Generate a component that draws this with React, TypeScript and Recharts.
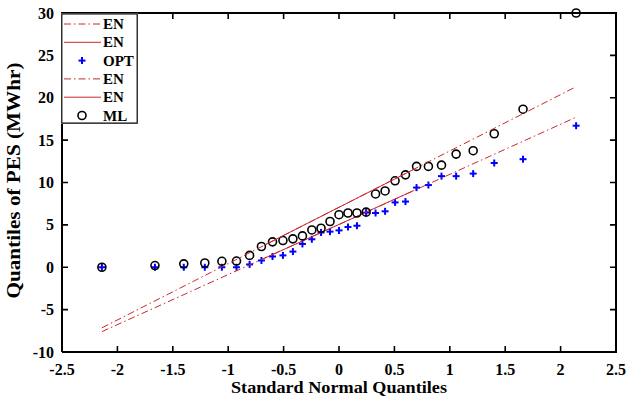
import React from 'react';
import { ComposedChart, Scatter, XAxis, YAxis, Label } from 'recharts';

// normal quantiles of the 31 plotting positions
const zQuantiles = [
  -2.14, -1.661, -1.401, -1.211, -1.057, -0.925, -0.807, -0.7, -0.6, -0.506, -0.416,
  -0.33, -0.245, -0.162, -0.081, 0, 0.081, 0.162, 0.245, 0.33, 0.416, 0.506, 0.6, 0.7,
  0.807, 0.925, 1.057, 1.211, 1.401, 1.661, 2.14,
];
const optValues = [
  0, 0, 0, 0, 0, 0, 0.33, 0.8, 1.27, 1.4, 1.85, 2.75, 3.3, 4.1, 4.2, 4.35, 4.75, 4.9,
  6.45, 6.4, 6.6, 7.65, 7.75, 9.4, 9.7, 10.75, 10.75, 11.05, 12.3, 12.75, 16.7,
];
const mlValues = [
  0, 0.2, 0.4, 0.5, 0.7, 0.73, 1.4, 2.45, 3.0, 3.15, 3.35, 3.7, 4.4, 4.6, 5.4, 6.2, 6.4,
  6.4, 6.5, 8.65, 9.0, 10.2, 10.9, 11.9, 11.9, 12.05, 13.35, 13.75, 15.75, 18.65, 30,
];

// reference lines: data extremes and first/third quartiles
const refX = [-2.14, -0.6745, 0.6745, 2.14];
const optRef = [-7.6, 1.05, 9.05, 17.7];
const mlRef = [-7.15, 2.6, 11.55, 21.3];

const xTicks = [-2.5, -2, -1.5, -1, -0.5, 0, 0.5, 1, 1.5, 2, 2.5];
const yTicks = [-10, -5, 0, 5, 10, 15, 20, 25, 30];
const xDomain = [-2.5, 2.5];
const yDomain = [-10, 30];

const RED = '#c8282d';
const BLUE = '#0000ff';
const INK = '#000';
const FONT = '"Liberation Serif", "Times New Roman", serif';
const DASHDOT = '7 3 1.5 3';

// plot box edges in the 630x403 frame
const PLOT_TOP = 13;
const PLOT_BOTTOM = 352;
const PLOT_LEFT = 62;
const PLOT_RIGHT = 616;
const TICK_LEN = 6;

const toPoints = (xs: number[], ys: number[]) => xs.map((x, i) => ({ x, y: ys[i] }));

const optData = toPoints(zQuantiles, optValues);
const mlData = toPoints(zQuantiles, mlValues);
const optFull = toPoints([refX[0], refX[3]], [optRef[0], optRef[3]]);
const optMid = toPoints(refX.slice(1, 3), optRef.slice(1, 3));
const mlFull = toPoints([refX[0], refX[3]], [mlRef[0], mlRef[3]]);
const mlMid = toPoints(refX.slice(1, 3), mlRef.slice(1, 3));

// corners of the axes box, walked round once
const boxCorners = toPoints(
  [xDomain[0], xDomain[1], xDomain[1], xDomain[0], xDomain[0]],
  [yDomain[0], yDomain[0], yDomain[1], yDomain[1], yDomain[0]]
);

const PlusMark = (props: any) => {
  const { cx, cy } = props;
  return (
    <g>
      <line x1={cx - 3.5} y1={cy} x2={cx + 3.5} y2={cy} stroke={BLUE} strokeWidth={2} />
      <line x1={cx} y1={cy - 3.5} x2={cx} y2={cy + 3.5} stroke={BLUE} strokeWidth={2} />
    </g>
  );
};

const CircleMark = (props: any) => {
  const { cx, cy } = props;
  return <circle cx={cx} cy={cy} r={4} fill="none" stroke="#000" strokeWidth={1.6} />;
};

const NoMark = () => <g />;

// ticks point inward, matching ones on the opposite side of the box
const XTick = (props: any) => {
  const { payload } = props;
  const x = payload.coordinate;
  return (
    <g>
      <path
        d={`M${x},${PLOT_BOTTOM}L${x + 0.01},${PLOT_BOTTOM - TICK_LEN}M${x},${PLOT_TOP}L${x + 0.01},${PLOT_TOP + TICK_LEN}`}
        stroke={INK}
        strokeWidth={1.6}
        fill="none"
      />
      <text x={x} y={375} textAnchor="middle" fontFamily={FONT} fontWeight="bold" fontSize={16} fill="#000">
        {payload.value}
      </text>
    </g>
  );
};

const YTick = (props: any) => {
  const { payload } = props;
  const y = payload.coordinate;
  return (
    <g>
      <path
        d={`M${PLOT_LEFT},${y}L${PLOT_LEFT + TICK_LEN},${y + 0.01}M${PLOT_RIGHT},${y}L${PLOT_RIGHT - TICK_LEN},${y + 0.01}`}
        stroke={INK}
        strokeWidth={1.6}
        fill="none"
      />
      <text
        x={54}
        y={y}
        textAnchor="end"
        dominantBaseline="central"
        fontFamily={FONT}
        fontWeight="bold"
        fontSize={16}
        fill="#000"
      >
        {payload.value}
      </text>
    </g>
  );
};

const legendRows = [
  { kind: 'dashdot', label: 'EN' },
  { kind: 'solid', label: 'EN' },
  { kind: 'plus', label: 'OPT' },
  { kind: 'dashdot', label: 'EN' },
  { kind: 'solid', label: 'EN' },
  { kind: 'circle', label: 'ML' },
];

const LegendBox = () => (
  <svg
    width={77}
    height={111}
    style={{ position: 'absolute', left: 61, top: 13, overflow: 'visible' }}
  >
    <rect x={0} y={0} width={77} height={111} fill="#fff" />
    <path d="M0.8,0.8L76.2,0.8L76.2,110.2L0.8,110.2Z" fill="none" stroke={INK} strokeWidth={1.2} />
    {legendRows.map((row, i) => {
      const cy = 11 + i * 18.3;
      return (
        <g key={i}>
          {row.kind === 'dashdot' && (
            <line x1={3} y1={cy} x2={40} y2={cy} stroke={RED} strokeWidth={1} strokeDasharray={DASHDOT} />
          )}
          {row.kind === 'solid' && <line x1={3} y1={cy} x2={40} y2={cy} stroke={RED} strokeWidth={1} />}
          {row.kind === 'plus' && <PlusMark cx={21} cy={cy} />}
          {row.kind === 'circle' && <CircleMark cx={21} cy={cy} />}
          <text
            x={42}
            y={cy}
            dominantBaseline="central"
            fontFamily={FONT}
            fontWeight="bold"
            fontSize={15}
            fill="#000"
          >
            {row.label}
          </text>
        </g>
      );
    })}
  </svg>
);

const App = () => {
  return (
    <div style={{ position: 'absolute', left: 0, top: 0, width: 630, height: 403, background: '#fff' }}>
      <ComposedChart width={630} height={403} margin={{ top: PLOT_TOP, right: 630 - PLOT_RIGHT, bottom: 0, left: 0 }}>
        <XAxis
          type="number"
          dataKey="x"
          domain={xDomain}
          ticks={xTicks}
          interval={0}
          height={403 - PLOT_BOTTOM}
          tickSize={0}
          tickMargin={0}
          tickLine={false}
          axisLine={false}
          tick={XTick}
        >
          <Label
            content={(props: any) => {
              const vb = props.viewBox;
              return (
                <text
                  x={vb.x + vb.width / 2}
                  y={393}
                  textAnchor="middle"
                  fontFamily={FONT}
                  fontWeight="bold"
                  fontSize={17.5}
                  textLength={216}
                  lengthAdjust="spacingAndGlyphs"
                  fill="#000"
                >
                  Standard Normal Quantiles
                </text>
              );
            }}
          />
        </XAxis>
        <YAxis
          type="number"
          dataKey="y"
          domain={yDomain}
          ticks={yTicks}
          interval={0}
          width={PLOT_LEFT}
          tickSize={0}
          tickMargin={0}
          tickLine={false}
          axisLine={false}
          tick={YTick}
        >
          <Label
            content={(props: any) => {
              const vb = props.viewBox;
              const cx = 14;
              const cy = vb.y + vb.height / 2 - 2;
              return (
                <text
                  x={cx}
                  y={cy}
                  transform={`rotate(-90 ${cx} ${cy})`}
                  textAnchor="middle"
                  dominantBaseline="central"
                  fontFamily={FONT}
                  fontWeight="bold"
                  fontSize={18}
                  textLength={236}
                  lengthAdjust="spacingAndGlyphs"
                  fill="#000"
                >
                  Quantiles of PES (MWhr)
                </text>
              );
            }}
          />
        </YAxis>
        <Scatter
          name="box"
          data={boxCorners}
          shape={NoMark}
          line={{ stroke: INK, strokeWidth: 2 }}
          legendType="none"
          isAnimationActive={false}
        />
        <Scatter name="OPT" data={optData} shape={PlusMark} isAnimationActive={false} />
        <Scatter
          name="EN"
          data={optFull}
          shape={NoMark}
          line={{ stroke: RED, strokeWidth: 1, strokeDasharray: DASHDOT }}
          isAnimationActive={false}
        />
        <Scatter
          name="EN"
          data={optMid}
          shape={NoMark}
          line={{ stroke: RED, strokeWidth: 1 }}
          isAnimationActive={false}
        />
        <Scatter name="ML" data={mlData} shape={CircleMark} isAnimationActive={false} />
        <Scatter
          name="EN"
          data={mlFull}
          shape={NoMark}
          line={{ stroke: RED, strokeWidth: 1, strokeDasharray: DASHDOT }}
          isAnimationActive={false}
        />
        <Scatter
          name="EN"
          data={mlMid}
          shape={NoMark}
          line={{ stroke: RED, strokeWidth: 1 }}
          isAnimationActive={false}
        />
      </ComposedChart>
      <LegendBox />
    </div>
  );
};

export default App;
